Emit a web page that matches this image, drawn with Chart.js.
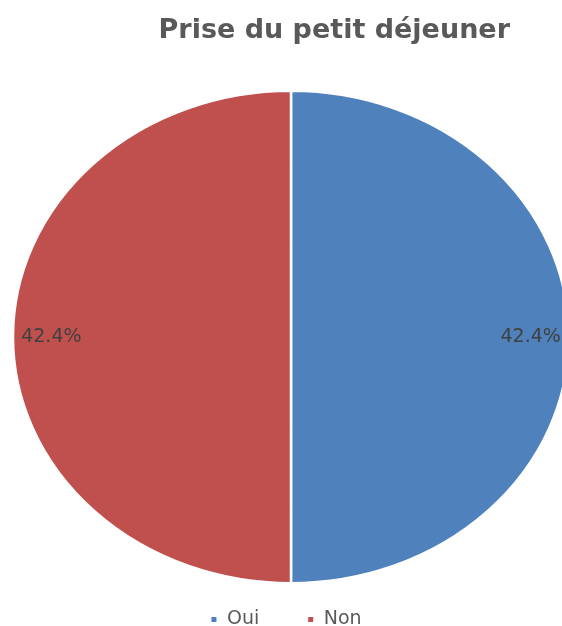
<!DOCTYPE html>
<html>
<head>
<meta charset="utf-8">
<script src="https://cdn.jsdelivr.net/npm/chart.js@4"></script>
<style>
  html, body { margin: 0; padding: 0; background: #fff; }
  #wrap { width: 562px; height: 626px; }
</style>
</head>
<body>
<div id="wrap"><canvas id="pie" width="562" height="626"></canvas></div>
<script>
const categories = ['Oui', 'Non'];
const values = [42.4, 42.4];
const sliceColors = ['#4F81BD', '#C0504D'];

// the pie is shown stretched into an ellipse
const PIE = { cx: 291, cy: 337, rx: 278, ry: 246 };

const ellipsePie = {
  id: 'ellipsePie',
  beforeDatasetsDraw(chart) {
    const arc = chart.getDatasetMeta(0).data[0];
    const ctx = chart.ctx;
    ctx.save();
    ctx.translate(PIE.cx, PIE.cy);
    ctx.scale(PIE.rx / arc.outerRadius, PIE.ry / arc.outerRadius);
    ctx.translate(-arc.x, -arc.y);
  },
  afterDatasetsDraw(chart) {
    const ctx = chart.ctx;
    ctx.restore();
    // value labels near the outer edge of each slice
    const meta = chart.getDatasetMeta(0);
    ctx.save();
    ctx.font = '19px "DejaVu Sans", sans-serif';
    ctx.fillStyle = '#404040';
    ctx.textAlign = 'center';
    ctx.textBaseline = 'middle';
    meta.data.forEach((arc, i) => {
      const mid = (arc.startAngle + arc.endAngle) / 2;
      const x = PIE.cx + Math.cos(mid) * PIE.rx * 0.862;
      const y = PIE.cy + Math.sin(mid) * PIE.ry * 0.862;
      ctx.fillText(values[i].toFixed(1) + '%', x, y);
    });
    ctx.restore();
  }
};

new Chart(document.getElementById('pie'), {
  type: 'pie',
  data: {
    labels: categories,
    datasets: [{
      data: values,
      backgroundColor: sliceColors,
      borderColor: '#ffffff',
      borderWidth: 2
    }]
  },
  options: {
    responsive: false,
    animation: false,
    layout: { padding: { left: 62, right: 52, top: 0, bottom: -13 } },
    plugins: {
      title: {
        display: true,
        text: 'Prise du petit déjeuner',
        align: 'end',
        color: '#595959',
        font: { family: '"DejaVu Sans", sans-serif', size: 27, weight: 'bold' },
        padding: { top: 15, bottom: 20 }
      },
      legend: {
        position: 'bottom',
        labels: {
          boxWidth: 7,
          boxHeight: 7,
          padding: 48,
          color: '#595959',
          font: { family: '"DejaVu Sans", sans-serif', size: 19 }
        }
      },
      tooltip: { enabled: false }
    }
  },
  plugins: [ellipsePie]
});
</script>
</body>
</html>
